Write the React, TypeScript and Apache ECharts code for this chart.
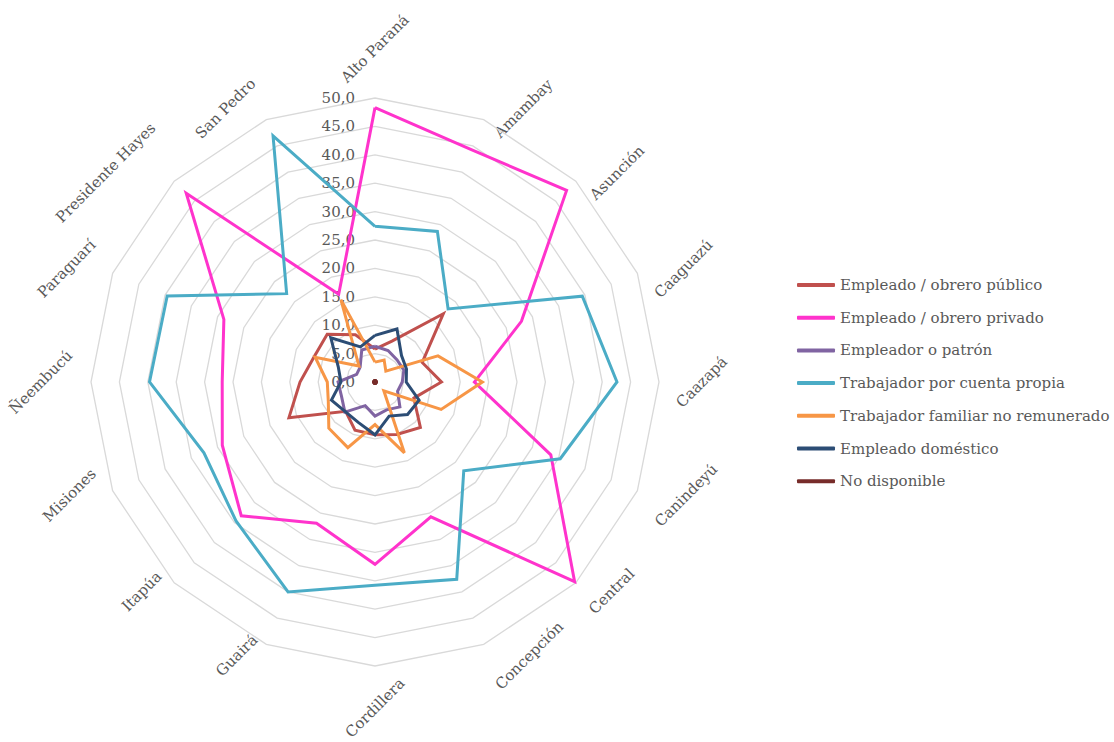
import React, { useEffect, useRef } from 'react';
import * as echarts from 'echarts';

const categories = [
  'Alto Paraná', 'Amambay', 'Asunción', 'Caaguazú', 'Caazapá', 'Canindeyú', 'Central', 'Concepción',
  'Cordillera', 'Guairá', 'Itapúa', 'Misiones', 'Ñeembucú', 'Paraguarí', 'Presidente Hayes', 'San Pedro',
];

const seriesNames = [
  'Empleado / obrero público',
  'Empleado / obrero privado',
  'Empleador o patrón',
  'Trabajador por cuenta propia',
  'Trabajador familiar no remunerado',
  'Empleado doméstico',
  'No disponible',
];

const publico = [5.8, 7.8, 17.0, 9.0, 11.7, 7.4, 11.3, 10.0, 9.3, 9.2, 7.3, 16.4, 13.2, 11.6, 11.9, 9.0];
const privado = [48.3, 44.3, 47.7, 27.9, 17.5, 33.5, 49.7, 25.7, 32.1, 26.9, 33.3, 29.1, 26.9, 28.8, 47.0, 16.7];
const patron = [6.3, 6.0, 5.5, 5.5, 4.8, 4.3, 6.2, 5.3, 6.0, 4.5, 7.5, 6.4, 6.5, 3.5, 3.7, 6.1];
const cuentaPropia = [27.4, 28.7, 18.2, 39.5, 42.6, 35.3, 22.1, 37.6, 35.8, 40.0, 34.6, 32.6, 39.7, 39.6, 22.0, 46.9];
const familiar = [3.5, 4.2, 2.7, 12.0, 18.9, 12.6, 2.2, 13.5, 7.5, 12.5, 11.5, 8.9, 8.4, 11.4, 4.0, 15.7];
const domestico = [8.2, 10.1, 6.6, 6.0, 5.5, 8.4, 8.1, 6.5, 9.3, 7.7, 7.4, 8.3, 6.0, 7.0, 11.0, 6.7];
const noDisponible = [0, 0, 0, 0, 0, 0, 0, 0, 0, 0, 0, 0, 0, 0, 0, 0];

const seriesValues = [publico, privado, patron, cuentaPropia, familiar, domestico, noDisponible];

const axisMin = 0;
const axisMax = 50;
const axisSplits = 10;

const colors = ['#C0504D', '#FF33CC', '#8064A2', '#4BACC6', '#F79646', '#2C4D75', '#772C2A'];

const FONT = '"DejaVu Serif", serif';
const FONT_SIZE = 15;
const TEXT_COLOR = '#595959';

export default function App() {
  const ref = useRef<HTMLDivElement>(null);

  useEffect(() => {
    if (!ref.current) return;
    const chart = echarts.init(ref.current, null, { renderer: 'svg' });

    const cx = 375;
    const cy = 382;
    const R = 284;
    const n = categories.length;
    // ECharts radar runs counter-clockwise; reorder so categories run clockwise from top
    const order = [0, ...Array.from({ length: n - 1 }, (_, k) => n - 1 - k)];

    const ctx = document.createElement('canvas').getContext('2d')!;
    ctx.font = `${FONT_SIZE}px ${FONT}`;
    const D = 296;
    const h = 17;
    const labelEls = categories.map((name, i) => {
      const a = (i * 2 * Math.PI) / n;
      const ux = Math.sin(a);
      const uy = -Math.cos(a);
      const px = cx + D * ux;
      const py = cy + D * uy;
      const L = ctx.measureText(name).width;
      const half = (L / 2 + (L + h) * 0.354) / 2;
      let x: number;
      let y: number;
      if (ux > 0.2) {
        x = px + half;
        y = py;
      } else if (ux < -0.2) {
        x = px - half;
        y = py;
      } else if (uy < 0) {
        x = px;
        y = py - (L + h) * 0.354;
      } else {
        x = px;
        y = Math.min(py + (L + h) * 0.354, 741 - (L + h) * 0.354);
      }
      return {
        type: 'text',
        x,
        y,
        rotation: Math.PI / 4,
        silent: true,
        style: {
          text: name,
          fontFamily: FONT,
          fontSize: FONT_SIZE,
          fill: TEXT_COLOR,
          align: 'center',
          verticalAlign: 'middle',
          textAlign: 'center',
          textVerticalAlign: 'middle',
        },
      };
    });

    const fmt = (v: number) => v.toFixed(1).replace('.', ',');

    chart.setOption({
      animation: false,
      backgroundColor: '#ffffff',
      legend: {
        orient: 'vertical',
        left: 797,
        top: 277,
        padding: 0,
        itemWidth: 38,
        itemHeight: 4,
        itemGap: 16.7,
        icon: 'roundRect',
        data: seriesNames,
        textStyle: { fontFamily: FONT, fontSize: FONT_SIZE, color: TEXT_COLOR, lineHeight: 16 },
      },
      radar: {
        center: [cx, cy],
        radius: R,
        startAngle: 90,
        shape: 'polygon',
        splitNumber: axisSplits,
        indicator: order.map((idx, k) => ({
          name: categories[idx],
          min: axisMin,
          max: axisMax,
          ...(k === 0 ? { axisLabel: { show: true } } : {}),
        })),
        axisName: { show: false },
        axisLine: { show: false },
        axisTick: { show: false },
        splitArea: { show: false },
        splitLine: { lineStyle: { color: '#D9D9D9', width: 1.3 } },
        axisLabel: {
          show: false,
          formatter: fmt,
          color: TEXT_COLOR,
          fontFamily: FONT,
          fontSize: FONT_SIZE,
          margin: 20,
        },
      },
      graphic: labelEls,
      series: [
        {
          type: 'radar',
          symbol: 'none',
          data: seriesNames.map((name, s) => ({
            name,
            value: order.map((i) => seriesValues[s][i]),
            symbol: s === 6 ? 'circle' : 'none',
            symbolSize: 5,
            lineStyle: { color: colors[s], width: 3, join: 'miter' },
            itemStyle: { color: colors[s] },
          })),
        },
      ],
    });

    return () => chart.dispose();
  }, []);

  return (
    <div
      ref={ref}
      style={{ position: 'absolute', left: 0, top: 0, width: 1114, height: 742 }}
    />
  );
}
